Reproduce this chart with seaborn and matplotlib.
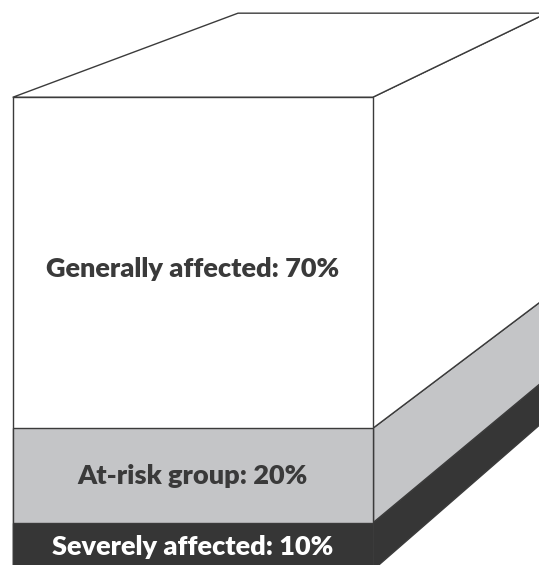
import matplotlib

matplotlib.use("Agg")
import matplotlib.pyplot as plt
from matplotlib.patches import Polygon
import numpy as np
import seaborn as sns

# shares of the population, stacked from the bottom
groups = ["Severely affected", "At-risk group", "Generally affected"]
shares = [10, 20, 70]

FILLS = ["#363636", "#c4c5c7", "#ffffff"]
TEXT_COLORS = ["#ffffff", "#3a3a3a", "#3a3a3a"]
LABEL_NUDGE = [0.0, 0.0, -1.2]
EDGE = "#3b3b3b"

# perspective of the box: vanishing point and depth scale (data units)
VP_X, VP_Y = 3.892, 224.8
DEPTH = 0.8575


def to_back(x, y):
    return VP_X + DEPTH * (x - VP_X), VP_Y + DEPTH * (y - VP_Y)


sns.set_style("white")
fig = plt.figure(figsize=(5.39, 5.65), dpi=100)
ax = fig.add_axes([0, 0, 1, 1])

tops = np.cumsum(shares)
bottoms = tops - np.array(shares)

# front face: overlapping cumulative bars, tallest first
for top, fill in reversed(list(zip(tops, FILLS))):
    sns.barplot(
        x=["box"], y=[top], color=fill, saturation=1, width=1.0,
        edgecolor=EDGE, linewidth=1.0, errorbar=None, ax=ax, zorder=3,
    )

# right side face, one slab per group
for bottom, top, fill in zip(bottoms, tops, FILLS):
    bx0, by0 = to_back(0.5, bottom)
    bx1, by1 = to_back(0.5, top)
    ax.add_patch(Polygon(
        [(0.5, bottom), (0.5, top), (bx1, by1), (bx0, by0)],
        closed=True, facecolor=fill, edgecolor=EDGE, linewidth=1.0, zorder=2,
    ))

# top face
total = tops[-1]
lx, ly = to_back(-0.5, total)
rx, ry = to_back(0.5, total)
ax.add_patch(Polygon(
    [(-0.5, total), (0.5, total), (rx, ry), (lx, ly)],
    closed=True, facecolor="white", edgecolor=EDGE, linewidth=1.0, zorder=2,
))

for name, share, bottom, color, nudge in zip(groups, shares, bottoms, TEXT_COLORS, LABEL_NUDGE):
    ax.text(
        0.0, bottom + share / 2 + nudge, f"{name}: {share}%",
        ha="center", va="center", color=color, fontsize=19.5,
        fontweight="heavy", family=["Lato", "DejaVu Sans"], zorder=5,
    )

ax.set_xlim(-0.5353, 0.962)
ax.set_ylim(1.12, 120.57)
ax.axis("off")

fig.savefig("out.png", dpi=100)
plt.close(fig)
